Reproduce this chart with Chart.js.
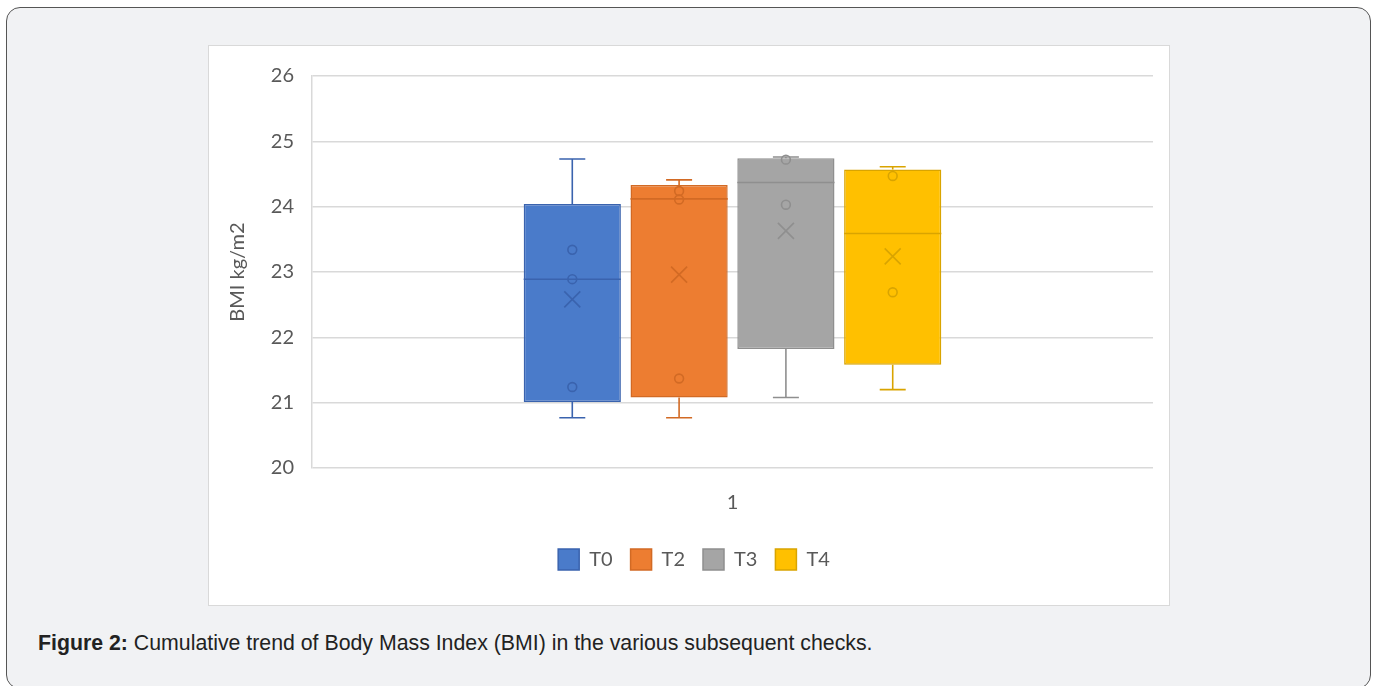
<!DOCTYPE html>
<html>
<head>
<meta charset="utf-8">
<script src="https://cdn.jsdelivr.net/npm/chart.js@4.4.1/dist/chart.umd.min.js"></script>
<style>
html,body{margin:0;padding:0;background:#fff;}
body{width:1377px;height:686px;position:relative;overflow:hidden;}
#card{position:absolute;left:6px;top:7px;width:1365px;height:682px;background:#f1f2f4;border:1.5px solid #555;border-radius:14px;box-sizing:border-box;}
#panel{position:absolute;left:208px;top:45px;width:962px;height:561px;background:#fff;border:1px solid #d9d9d9;box-sizing:border-box;}
#panel canvas{position:absolute;left:0;top:0;}
#caption{position:absolute;left:38px;top:631px;line-height:24px;font-family:"Liberation Sans",Arial,sans-serif;font-size:21.3px;color:#222;white-space:nowrap;}
</style>
</head>
<body>
<div id="card"></div>
<div id="panel"><canvas id="chart" width="962" height="561"></canvas></div>
<div id="caption"><b>Figure 2:</b> Cumulative trend of Body Mass Index (BMI) in the various subsequent checks.</div>
<script>
/* data */
const categories = ['1'];
const series = ['T0','T2','T3','T4'];
const q1 = [21.01, 21.08, 21.82, 21.58];
const q3 = [24.04, 24.33, 24.74, 24.57];
const medians = [22.89, 24.12, 24.37, 23.59];
const means = [22.58, 22.96, 23.63, 23.24];
const whiskerLow = [20.77, 20.77, 21.08, 21.20];
const whiskerHigh = [24.73, 24.41, 24.76, 24.61];
const innerPoints = [
  [23.34, 22.89, 21.24],
  [24.24, 24.11, 21.37],
  [24.72, 24.03],
  [24.47, 22.69]
];
const yTicks = [20, 21, 22, 23, 24, 25, 26];

const fills = ['#4A7BCA','#ED7D31','#A5A5A5','#FFC000'];
const strokes = ['#3A63AE','#D26A24','#8F8F8F','#D9A400'];
const tickFont = {family:'Lato, "Open Sans", sans-serif', size:20};

/* box plot extras: whiskers, medians, means, points */
const boxExtras = {
  id:'boxExtras',
  afterDatasetsDraw(chart){
    const ctx = chart.ctx;
    const y = chart.scales.y;
    series.forEach((s,i)=>{
      const bar = chart.getDatasetMeta(i).data[0];
      if(!bar) return;
      const cx = bar.x;
      const half = bar.width/2;
      ctx.save();
      ctx.strokeStyle = strokes[i];
      ctx.lineWidth = 1.6;
      // whiskers
      const yTop = y.getPixelForValue(q3[i]);
      const yBot = y.getPixelForValue(q1[i]);
      const wHi = y.getPixelForValue(whiskerHigh[i]);
      const wLo = y.getPixelForValue(whiskerLow[i]);
      ctx.beginPath();
      ctx.moveTo(cx, yTop); ctx.lineTo(cx, wHi);
      ctx.moveTo(cx-13, wHi); ctx.lineTo(cx+13, wHi);
      ctx.moveTo(cx, yBot); ctx.lineTo(cx, wLo);
      ctx.moveTo(cx-13, wLo); ctx.lineTo(cx+13, wLo);
      ctx.stroke();
      // median
      const ym = y.getPixelForValue(medians[i]);
      ctx.beginPath();
      ctx.moveTo(cx-half, ym); ctx.lineTo(cx+half, ym);
      ctx.stroke();
      // mean
      const yx = y.getPixelForValue(means[i]);
      ctx.beginPath();
      ctx.moveTo(cx-8, yx-8); ctx.lineTo(cx+8, yx+8);
      ctx.moveTo(cx+8, yx-8); ctx.lineTo(cx-8, yx+8);
      ctx.stroke();
      // points
      innerPoints[i].forEach(v=>{
        ctx.beginPath();
        ctx.arc(cx, y.getPixelForValue(v), 4.4, 0, Math.PI*2);
        ctx.stroke();
      });
      ctx.restore();
    });
  }
};

const datasets = series.map((s,i)=>({
  label:s,
  data:[[q1[i], q3[i]]],
  backgroundColor:fills[i],
  borderColor:strokes[i],
  borderWidth:1.5,
  borderSkipped:false,
  categoryPercentage:0.508,
  barPercentage:0.91
}));

new Chart(document.getElementById('chart'),{
  type:'bar',
  data:{labels:categories, datasets:datasets},
  options:{
    responsive:false,
    animation:false,
    layout:{padding:{left:26,right:18,top:26,bottom:27}},
    plugins:{
      tooltip:{enabled:false},
      legend:{
        position:'bottom',
        labels:{boxWidth:21, boxHeight:21, padding:18, color:'#595959', font:tickFont}
      }
    },
    scales:{
      x:{
        grid:{display:false, drawTicks:false},
        border:{display:false},
        ticks:{color:'#595959', font:tickFont, padding:23},
        afterFit(scale){ scale.height = 63; }
      },
      y:{
        min:20, max:26,
        afterBuildTicks(scale){ scale.ticks = yTicks.map(v=>({value:v})); },
        grid:{color:'#d9d9d9', lineWidth:1.5, drawTicks:false},
        border:{display:true, color:'#d9d9d9', width:1.5},
        ticks:{color:'#595959', font:tickFont, padding:18},
        title:{display:true, text:'BMI kg/m2', color:'#595959', font:tickFont, padding:{top:-9,bottom:0}},
        afterFit(scale){ scale.width = 77; }
      }
    }
  },
  plugins:[boxExtras]
});
</script>
</body>
</html>
